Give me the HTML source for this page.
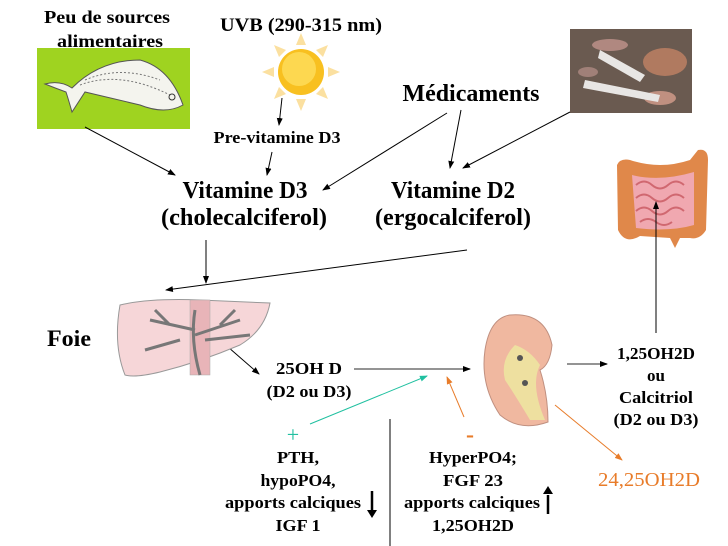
<!DOCTYPE html>
<html><head><meta charset="utf-8"><style>
html,body{margin:0;padding:0;background:#fff;}
svg{display:block;}
text{font-family:"Liberation Serif",serif;font-weight:bold;fill:#000;}
</style></head><body>
<svg width="728" height="546" viewBox="0 0 728 546" xmlns="http://www.w3.org/2000/svg">
<defs>
<marker id="a" markerWidth="8" markerHeight="8" refX="7" refY="4" orient="auto" markerUnits="userSpaceOnUse"><path d="M0,1 L8,4 L0,7 z" fill="#000"/></marker>
<marker id="t" markerWidth="8" markerHeight="8" refX="7" refY="4" orient="auto" markerUnits="userSpaceOnUse"><path d="M0,1 L8,4 L0,7 z" fill="#20c0a0"/></marker>
<marker id="o" markerWidth="8" markerHeight="8" refX="7" refY="4" orient="auto" markerUnits="userSpaceOnUse"><path d="M0,1 L8,4 L0,7 z" fill="#e87c2a"/></marker>
</defs>
<!-- fish box -->
<rect x="37" y="48" width="153" height="81" fill="#9fd320"/>
<path d="M45,84 Q60,80 72,88 Q100,60 140,60 Q170,68 183,105 Q165,115 140,105 Q110,98 85,92 L72,112 Q68,98 66,92 Q55,88 45,84 z" fill="#f4f4ee" stroke="#555" stroke-width="1"/>
<path d="M80,85 Q120,70 170,95 M85,80 Q120,65 160,80" stroke="#777" fill="none" stroke-dasharray="2,2"/>
<circle cx="172" cy="97" r="3" fill="none" stroke="#333"/>
<text x="107" y="23" font-size="18" text-anchor="middle" textLength="126" lengthAdjust="spacingAndGlyphs">Peu de sources</text>
<text x="110" y="47" font-size="18" text-anchor="middle" textLength="106" lengthAdjust="spacingAndGlyphs">alimentaires</text>
<!-- sun -->
<g fill="#fbe0a0">
<polygon points="301,33 296,45 306,45"/><polygon points="301,111 296,99 306,99"/>
<polygon points="262,72 274,67 274,77"/><polygon points="340,72 328,67 328,77"/>
<polygon points="274,45 279,57 286,50"/><polygon points="328,45 316,50 323,57"/>
<polygon points="274,99 286,94 279,87"/><polygon points="328,99 323,87 316,94"/>
</g>
<circle cx="301" cy="72" r="23" fill="#f8c020"/>
<circle cx="299" cy="69" r="17" fill="#fdd850"/>
<text x="301" y="31" font-size="19" text-anchor="middle" textLength="162" lengthAdjust="spacingAndGlyphs">UVB (290-315 nm)</text>
<text x="277" y="143" font-size="17" text-anchor="middle" textLength="127" lengthAdjust="spacingAndGlyphs">Pre-vitamine D3</text>
<text x="471" y="101" font-size="24" text-anchor="middle" textLength="137" lengthAdjust="spacingAndGlyphs">Médicaments</text>
<!-- mushroom photo -->
<rect x="570" y="29" width="122" height="84" fill="#6a5a50"/>
<ellipse cx="610" cy="45" rx="18" ry="6" fill="#b08880"/>
<path d="M600,50 L645,75 L640,82 L598,58 z" fill="#e8e6e4"/>
<ellipse cx="665" cy="62" rx="22" ry="14" fill="#b07a60"/>
<ellipse cx="660" cy="98" rx="16" ry="7" fill="#c09080"/>
<path d="M585,80 L660,95 L658,102 L583,88 z" fill="#e8e6e4"/>
<ellipse cx="588" cy="72" rx="10" ry="5" fill="#a08078"/>
<!-- Vitamins -->
<text x="245" y="198" font-size="24" text-anchor="middle" textLength="125" lengthAdjust="spacingAndGlyphs">Vitamine D3</text>
<text x="244" y="225" font-size="24" text-anchor="middle" textLength="166" lengthAdjust="spacingAndGlyphs">(cholecalciferol)</text>
<text x="453" y="198" font-size="24" text-anchor="middle" textLength="124" lengthAdjust="spacingAndGlyphs">Vitamine D2</text>
<text x="453" y="225" font-size="24" text-anchor="middle" textLength="156" lengthAdjust="spacingAndGlyphs">(ergocalciferol)</text>
<!-- intestines -->
<path d="M617,165 Q620,158 630,160 Q660,170 690,160 L698,150 Q708,148 708,160 L706,230 Q700,240 690,238 L680,238 L675,248 L670,238 L640,236 Q625,245 618,230 z" fill="#e0884a"/>
<path d="M632,175 Q660,182 694,172 L694,225 Q670,232 636,228 z" fill="#f0a8b0"/>
<path d="M636,185 q8,-7 16,0 t16,0 t16,0 M636,198 q8,-7 16,0 t16,0 t16,0 M636,211 q8,-7 16,0 t16,0 t16,0 M640,222 q8,-6 16,0 t16,0" stroke="#d06870" fill="none" stroke-width="2"/>
<!-- arrows top -->
<g stroke="#000" stroke-width="1" fill="none" marker-end="url(#a)">
<line x1="85" y1="127" x2="175" y2="175"/>
<line x1="282" y1="98" x2="279" y2="125"/>
<line x1="272" y1="152" x2="267" y2="175"/>
<line x1="447" y1="113" x2="323" y2="190"/>
<line x1="461" y1="110" x2="450" y2="168"/>
<line x1="570" y1="112" x2="463" y2="168"/>
<line x1="206" y1="240" x2="206" y2="283"/>
<line x1="467" y1="250" x2="166" y2="290"/>
<line x1="656" y1="333" x2="656" y2="202"/>
<line x1="228" y1="347" x2="259" y2="374"/>
</g>
<!-- liver -->
<path d="M120,305 Q150,298 200,300 L270,303 Q265,330 240,345 Q200,362 160,372 Q135,378 125,375 Q113,345 120,305 z" fill="#f6d6d8" stroke="#999"/>
<rect x="190" y="300" width="20" height="75" fill="#e8b4b8" stroke="#aaa" stroke-width="0.5"/>
<path d="M200,375 Q190,340 195,310 M195,330 L150,320 M195,335 L240,320 M180,340 L145,350 M205,340 L250,335 M170,325 L155,310 M220,325 L235,310" stroke="#777" stroke-width="3" fill="none"/>
<text x="47" y="346" font-size="23" textLength="44" lengthAdjust="spacingAndGlyphs">Foie</text>
<text x="309" y="374" font-size="17" text-anchor="middle" textLength="66" lengthAdjust="spacingAndGlyphs">25OH D</text>
<text x="309" y="397" font-size="17" text-anchor="middle" textLength="85" lengthAdjust="spacingAndGlyphs">(D2 ou D3)</text>
<line x1="354" y1="369" x2="470" y2="369" stroke="#555" stroke-width="1.3" marker-end="url(#a)"/>
<!-- kidney -->
<path d="M510,315 Q545,312 552,345 Q550,365 540,370 Q548,395 548,422 Q520,432 500,415 Q480,385 485,350 Q490,318 510,315 z" fill="#f0b8a0" stroke="#c09080"/>
<path d="M515,345 Q530,350 540,365 Q530,385 545,420 L530,420 Q515,395 505,380 Q500,360 515,345 z" fill="#eee0a0"/>
<circle cx="520" cy="358" r="3" fill="#555"/><circle cx="525" cy="383" r="3" fill="#555"/>
<line x1="567" y1="364" x2="607" y2="364" stroke="#555" stroke-width="1.3" marker-end="url(#a)"/>
<g font-size="17" text-anchor="middle">
<text x="656" y="359" textLength="78" lengthAdjust="spacingAndGlyphs">1,25OH2D</text><text x="656" y="381">ou</text><text x="656" y="403" textLength="74" lengthAdjust="spacingAndGlyphs">Calcitriol</text><text x="656" y="425" textLength="85" lengthAdjust="spacingAndGlyphs">(D2 ou D3)</text>
</g>
<line x1="310" y1="424" x2="427" y2="376" stroke="#20c0a0" stroke-width="1" marker-end="url(#t)"/>
<text x="293" y="442" font-size="22" text-anchor="middle" style="fill:#20c0a0;font-weight:normal">+</text>
<line x1="464" y1="417" x2="447" y2="377" stroke="#e87c2a" stroke-width="1" marker-end="url(#o)"/>
<text x="470" y="442" font-size="24" text-anchor="middle" style="fill:#e87c2a">-</text>
<line x1="555" y1="405" x2="622" y2="460" stroke="#e87c2a" stroke-width="1" marker-end="url(#o)"/>
<text x="649" y="486" font-size="20" text-anchor="middle" textLength="102" lengthAdjust="spacingAndGlyphs" style="fill:#e87c2a;font-weight:normal">24,25OH2D</text>
<line x1="390" y1="419" x2="390" y2="546" stroke="#000"/>
<g font-size="17" text-anchor="middle">
<text x="298" y="463" textLength="42" lengthAdjust="spacingAndGlyphs">PTH,</text><text x="298" y="486" textLength="75" lengthAdjust="spacingAndGlyphs">hypoPO4,</text><text x="293" y="508" textLength="136" lengthAdjust="spacingAndGlyphs">apports calciques</text><text x="298" y="531" textLength="45" lengthAdjust="spacingAndGlyphs">IGF 1</text>
<text x="473" y="463" textLength="88" lengthAdjust="spacingAndGlyphs">HyperPO4;</text><text x="473" y="486" textLength="60" lengthAdjust="spacingAndGlyphs">FGF 23</text><text x="472" y="508" textLength="136" lengthAdjust="spacingAndGlyphs">apports calciques</text><text x="473" y="531" textLength="82" lengthAdjust="spacingAndGlyphs">1,25OH2D</text>
</g>
<line x1="372" y1="491" x2="372" y2="513" stroke="#000" stroke-width="2.5"/>
<path d="M367,510 L372,518 L377,510 z"/>
<line x1="548" y1="495" x2="548" y2="514" stroke="#000" stroke-width="2.5"/>
<path d="M543,494 L548,486 L553,494 z"/>
</svg>
</body></html>
